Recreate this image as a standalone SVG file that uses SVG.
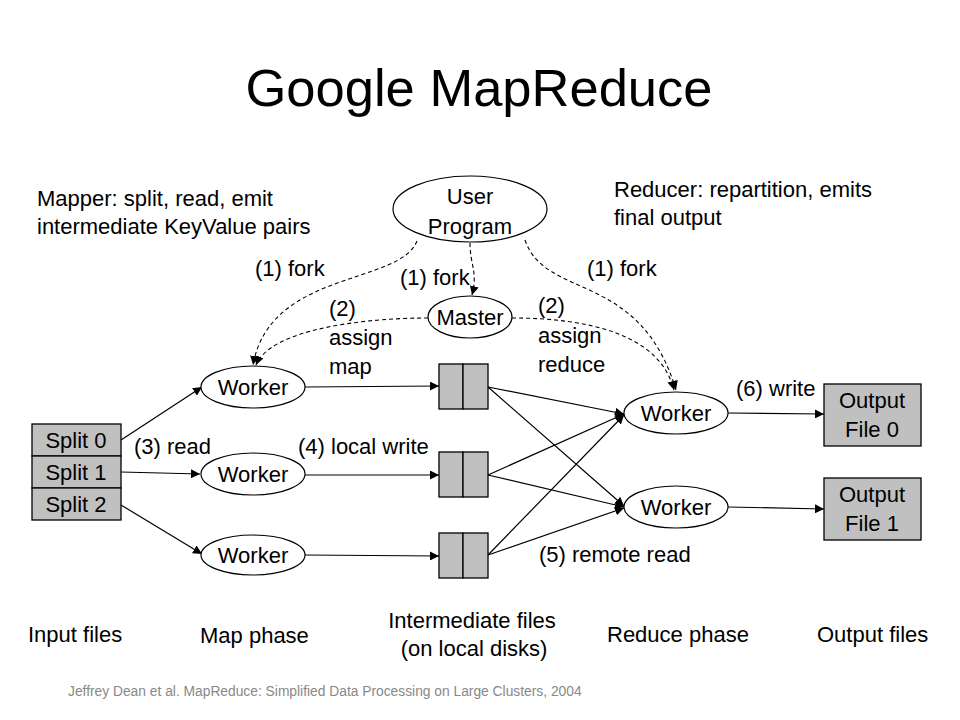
<svg xmlns="http://www.w3.org/2000/svg" width="960" height="720" viewBox="0 0 960 720">
<style>
  text { font-family: "Liberation Sans", Arial, sans-serif; fill: #000; }
  .t { font-size: 22px; }
  .c { text-anchor: middle; }
  .node { fill: #fff; stroke: #000; stroke-width: 1.2; }
  .box { fill: #c0c0c0; stroke: #000; stroke-width: 1.3; }
  .ln { fill: none; stroke: #000; stroke-width: 1.2; marker-end: url(#ah); }
  .dash { fill: none; stroke: #000; stroke-width: 1.1; stroke-dasharray: 4 3; marker-end: url(#ah); }
</style>
<defs>
  <marker id="ah" viewBox="0 0 10 10" refX="10" refY="5" markerWidth="9" markerHeight="9" markerUnits="userSpaceOnUse" orient="auto">
    <path d="M0,0 L10,5 L0,10 z" fill="#000"/>
  </marker>
</defs>
<rect width="960" height="720" fill="#fff"/>

<text x="479" y="106" class="c" style="font-size:52.5px">Google MapReduce</text>

<g id="notes">
  <text class="t" x="37" y="206">Mapper: split, read, emit</text>
  <text class="t" x="37" y="234">intermediate KeyValue pairs</text>
  <text class="t" x="614" y="197">Reducer: repartition, emits</text>
  <text class="t" x="614" y="225">final output</text>
</g>

<g id="connectors">
  <path class="dash" d="M417 241 C400 285 270 270 253 365"/>
  <path class="dash" d="M428 318 C360 318 270 330 256 365"/>
  <path class="dash" d="M470 243 C470 265 478 272 472 295"/>
  <path class="dash" d="M525 240 C545 300 640 270 676 390"/>
  <path class="dash" d="M512 318 C590 318 660 335 674 390"/>
  <path class="ln" d="M121 440 L202 387"/>
  <path class="ln" d="M121 472 L200 474"/>
  <path class="ln" d="M121 505 L202 554"/>
  <path class="ln" d="M305 387 L439 386"/>
  <path class="ln" d="M305 475 L439 475"/>
  <path class="ln" d="M305 555 L439 556"/>
  <path class="ln" d="M488 387 L624 414"/>
  <path class="ln" d="M488 387 L624 506"/>
  <path class="ln" d="M488 475 L624 414"/>
  <path class="ln" d="M488 475 L624 507"/>
  <path class="ln" d="M488 555 L624 415"/>
  <path class="ln" d="M488 555 L624 508"/>
  <path class="ln" d="M728 413 L824 414"/>
  <path class="ln" d="M728 507 L824 509"/>
</g>

<g id="labels">
  <text class="t" x="255" y="276">(1) fork</text>
  <text class="t" x="400" y="285">(1) fork</text>
  <text class="t" x="587" y="276">(1) fork</text>
  <text class="t" x="329" y="316">(2)</text>
  <text class="t" x="329" y="345">assign</text>
  <text class="t" x="329" y="374">map</text>
  <text class="t" x="538" y="313">(2)</text>
  <text class="t" x="538" y="343">assign</text>
  <text class="t" x="538" y="372">reduce</text>
  <text class="t" x="736" y="396">(6) write</text>
  <text class="t" x="134" y="454">(3) read</text>
  <text class="t" x="298" y="454">(4) local write</text>
  <text class="t" x="539" y="562">(5) remote read</text>
</g>

<g id="user-program">
  <ellipse class="node" cx="470" cy="209" rx="77" ry="33"/>
  <text class="t c" x="470" y="204">User</text>
  <text class="t c" x="470" y="234">Program</text>
</g>
<g id="master">
  <ellipse class="node" cx="470" cy="317" rx="42" ry="21"/>
  <text class="t c" x="470" y="325">Master</text>
</g>
<g id="map-worker-0">
  <ellipse class="node" cx="253" cy="387" rx="52" ry="21"/>
  <text class="t c" x="253" y="395">Worker</text>
</g>
<g id="map-worker-1">
  <ellipse class="node" cx="253" cy="474" rx="52" ry="21"/>
  <text class="t c" x="253" y="482">Worker</text>
</g>
<g id="map-worker-2">
  <ellipse class="node" cx="253" cy="555" rx="52" ry="20"/>
  <text class="t c" x="253" y="563">Worker</text>
</g>
<g id="reduce-worker-0">
  <ellipse class="node" cx="676" cy="413" rx="52" ry="21"/>
  <text class="t c" x="676" y="421">Worker</text>
</g>
<g id="reduce-worker-1">
  <ellipse class="node" cx="676" cy="507" rx="52" ry="21"/>
  <text class="t c" x="676" y="515">Worker</text>
</g>

<g id="splits">
  <rect class="box" x="32" y="424" width="89" height="32"/>
  <rect class="box" x="32" y="456" width="89" height="32"/>
  <rect class="box" x="32" y="488" width="89" height="32"/>
  <text class="t c" x="76" y="448">Split 0</text>
  <text class="t c" x="76" y="480">Split 1</text>
  <text class="t c" x="76" y="512">Split 2</text>
</g>

<g id="intermediate-0">
  <rect class="box" x="439" y="364" width="24" height="45"/>
  <rect class="box" x="463" y="364" width="25" height="45"/>
</g>
<g id="intermediate-1">
  <rect class="box" x="439" y="452" width="24" height="45"/>
  <rect class="box" x="463" y="452" width="25" height="45"/>
</g>
<g id="intermediate-2">
  <rect class="box" x="439" y="533" width="24" height="45"/>
  <rect class="box" x="463" y="533" width="25" height="45"/>
</g>

<g id="output-file-0">
  <rect class="box" x="824" y="384" width="97" height="62"/>
  <text class="t c" x="872" y="408">Output</text>
  <text class="t c" x="872" y="437">File 0</text>
</g>
<g id="output-file-1">
  <rect class="box" x="824" y="478" width="97" height="62"/>
  <text class="t c" x="872" y="502">Output</text>
  <text class="t c" x="872" y="531">File 1</text>
</g>

<g id="phases">
  <text class="t" x="28" y="642">Input files</text>
  <text class="t" x="200" y="643">Map phase</text>
  <text class="t c" x="472" y="628">Intermediate files</text>
  <text class="t c" x="474" y="656">(on local disks)</text>
  <text class="t" x="607" y="642">Reduce phase</text>
  <text class="t" x="817" y="642">Output files</text>
</g>

<text x="68" y="696" style="font-size:13.8px;fill:#888">Jeffrey Dean et al. MapReduce: Simplified Data Processing on Large Clusters, 2004</text>
</svg>
